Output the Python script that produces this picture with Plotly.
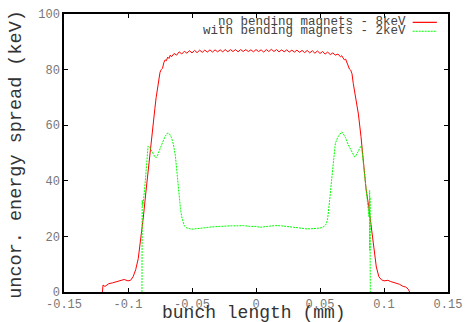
import plotly.graph_objects as go

# ---- data ----
red_x = [-0.120, -0.1195, -0.118, -0.115, -0.112, -0.108, -0.105, -0.103, -0.100, -0.098,
         -0.096, -0.094, -0.092, -0.090, -0.088, -0.086, -0.084, -0.082, -0.080, -0.079,
         -0.078, -0.076, -0.075, -0.074, -0.073, -0.072, -0.071, -0.070, -0.069, -0.068, -0.067,
         -0.066, -0.064, -0.062, -0.060, -0.058, -0.056, -0.054, -0.052, -0.050, -0.048,
         -0.046, -0.044, -0.042, -0.040, -0.038, -0.036, -0.034, -0.032, -0.030, -0.028,
         -0.026, -0.024, -0.022, -0.020, -0.018, -0.016, -0.014, -0.012, -0.010, -0.008,
         -0.006, -0.004, -0.002, 0.000, 0.002, 0.004, 0.006, 0.008, 0.010, 0.012,
         0.014, 0.016, 0.018, 0.020, 0.022, 0.024, 0.026, 0.028, 0.030, 0.032,
         0.034, 0.036, 0.038, 0.040, 0.042, 0.044, 0.046, 0.048, 0.050, 0.052,
         0.054, 0.056, 0.058, 0.060, 0.062, 0.064, 0.066,
         0.067, 0.068, 0.069, 0.070, 0.071, 0.072, 0.073, 0.074, 0.075, 0.076,
         0.078, 0.080, 0.082, 0.084, 0.086, 0.088, 0.090, 0.092, 0.094, 0.096,
         0.098, 0.100, 0.103, 0.105, 0.108, 0.112, 0.115, 0.117, 0.119, 0.1195, 0.120]
red_y = [0.0, 2.5, 2.0, 3.0, 3.3, 3.8, 4.3, 4.5, 4.0, 4.2,
         5.5, 8.0, 12.0, 19.0, 27.0, 36.0, 45.0, 55.0, 63.0, 66.0,
         70.0, 77.0, 79.0, 80.0, 80.5, 82.5, 83.5, 83.2, 84.5, 84.0, 85.2,
         84.6, 85.8, 85.2, 86.4, 85.6, 86.6, 85.9, 86.8, 86.0, 86.9,
         86.1, 87.0, 86.2, 87.0, 86.3, 87.1, 86.3, 87.1, 86.4, 87.1,
         86.4, 87.2, 86.4, 87.2, 86.5, 87.2, 86.4, 87.2, 86.5, 87.2,
         86.5, 87.1, 86.4, 87.2, 86.5, 87.1, 86.3, 87.2, 86.5, 87.3,
         86.5, 87.2, 86.4, 87.1, 86.4, 87.1, 86.3, 87.0, 86.3, 87.0,
         86.2, 86.9, 86.1, 86.9, 86.0, 86.8, 85.9, 86.7, 85.8, 86.5,
         85.6, 86.3, 85.4, 86.0, 85.2, 85.6, 84.6,
         85.0, 84.2, 83.5, 83.8, 82.5, 81.0, 80.2, 79.8, 78.5, 75.0,
         70.0, 64.0, 56.0, 46.0, 37.0, 31.0, 24.0, 15.0, 9.0, 5.5,
         4.4, 4.0, 4.2, 3.8, 3.4, 2.8, 2.0, 1.8, 1.0, 0.5, 0.0]

green_x = [-0.0891, -0.0890, -0.0889, -0.0888, -0.0886, -0.0884, -0.087, -0.086, -0.085, -0.0843,
           -0.083, -0.082, -0.080, -0.079, -0.078, -0.077, -0.075, -0.073, -0.071, -0.069,
           -0.0675, -0.066, -0.0645, -0.063, -0.062, -0.061, -0.060, -0.059, -0.058, -0.057,
           -0.056, -0.054, -0.052, -0.050, -0.048, -0.045, -0.042, -0.040, -0.035, -0.030,
           -0.025, -0.020, -0.015, -0.010, -0.005, 0.000, 0.003, 0.006, 0.010, 0.015,
           0.020, 0.025, 0.030, 0.035, 0.040, 0.045, 0.050, 0.053, 0.055, 0.056,
           0.057, 0.058, 0.059, 0.060, 0.061, 0.062, 0.064, 0.066, 0.067, 0.068,
           0.070, 0.072, 0.074, 0.076, 0.077, 0.078, 0.080, 0.082, 0.0825, 0.084,
           0.0855, 0.087, 0.0878, 0.0883, 0.0886, 0.0888, 0.0889, 0.0890, 0.0891, 0.0893]
green_y = [0.0, 20.0, 33.0, 27.0, 28.5, 31.0, 37.0, 43.0, 48.0, 52.5,
           52.0, 51.0, 49.5, 48.6, 48.3, 49.0, 51.5, 54.0, 56.0, 57.2,
           56.8, 55.5, 53.0, 49.0, 44.0, 39.0, 34.0, 30.0, 27.0, 25.0,
           23.8, 23.0, 22.7, 22.6, 22.7, 22.8, 22.9, 23.1, 23.4, 23.6,
           23.7, 23.8, 23.8, 23.9, 23.6, 23.6, 23.3, 23.5, 23.7, 23.9,
           23.8, 23.5, 23.1, 22.8, 22.7, 22.8, 23.0, 23.5, 24.5, 26.5,
           30.0, 35.0, 40.0, 45.0, 50.0, 53.5, 55.8, 57.3, 57.6, 57.0,
           55.5, 53.0, 51.0, 49.0, 48.6, 49.0, 50.5, 52.5, 52.3, 46.0,
           40.0, 32.0, 29.0, 27.0, 31.0, 36.5, 15.0, 34.0, 12.0, 0.0]

x_ticks = [-0.15, -0.1, -0.05, 0, 0.05, 0.1, 0.15]
x_tick_labels = ["-0.15", "-0.1", "-0.05", "0", "0.05", "0.1", "0.15"]
y_ticks = [0, 20, 40, 60, 80, 100]
series_names = ["no bending magnets - 8keV", "with bending magnets - 2keV"]
series_colors = ["#ff0000", "#00ff00"]
series_dash = ["solid", "2px,1px"]
x_title = "bunch length (mm)"
y_title = "uncor. energy spread (keV)"

FONT = "Liberation Mono"

fig = go.Figure()
fig.add_trace(go.Scatter(x=red_x, y=red_y, mode="lines", name=series_names[0],
                         line=dict(color=series_colors[0], width=1, dash=series_dash[0]),
                         showlegend=False))
fig.add_trace(go.Scatter(x=green_x, y=green_y, mode="lines", name=series_names[1],
                         line=dict(color=series_colors[1], width=1, dash=series_dash[1]),
                         showlegend=False))

# gnuplot-style legend: text right-aligned, sample line on the right
legend_rows_y = [0.970, 0.938]
for name, col, dash, ly in zip(series_names, series_colors, series_dash, legend_rows_y):
    fig.add_annotation(x=0.895, y=ly, xref="paper", yref="paper", text=name,
                       showarrow=False, xanchor="right", yanchor="middle",
                       font=dict(family=FONT, size=12.5, color="#444444"))
    fig.add_shape(type="line", xref="paper", yref="paper", x0=0.908, x1=0.971, y0=ly, y1=ly,
                  line=dict(color=col, width=1.2, dash=dash))

# axis titles
fig.add_annotation(x=0.496, y=-0.077, xref="paper", yref="paper", text=x_title,
                   showarrow=False, xanchor="center", yanchor="middle",
                   font=dict(family=FONT, size=18, color="#333333"))
fig.add_annotation(x=-0.124, y=0.495, xref="paper", yref="paper", text=y_title,
                   showarrow=False, xanchor="center", yanchor="middle", textangle=-90,
                   font=dict(family=FONT, size=18.5, color="#333333"))

axis_common = dict(showgrid=False, zeroline=False, showline=True, linecolor="black",
                   linewidth=1.5, mirror="ticks", ticks="inside", ticklen=4,
                   tickcolor="black", tickwidth=1, automargin=False,
                   tickfont=dict(family=FONT, size=12, color="#777777"))

fig.update_xaxes(range=[-0.15, 0.15], tickvals=x_ticks, ticktext=x_tick_labels, **axis_common)
fig.update_yaxes(range=[0, 100], tickvals=y_ticks, **axis_common)

fig.update_layout(width=465, height=322, plot_bgcolor="white", paper_bgcolor="white",
                  margin=dict(l=63.5, r=17.3, t=13.5, b=30.3), showlegend=False)

# remove the browser's default 8px body margin so the figure fills the window exactly
fig.write_html("out.html", config={"displayModeBar": False},
               post_script="document.body.style.margin='0';document.body.style.overflow='hidden';")
